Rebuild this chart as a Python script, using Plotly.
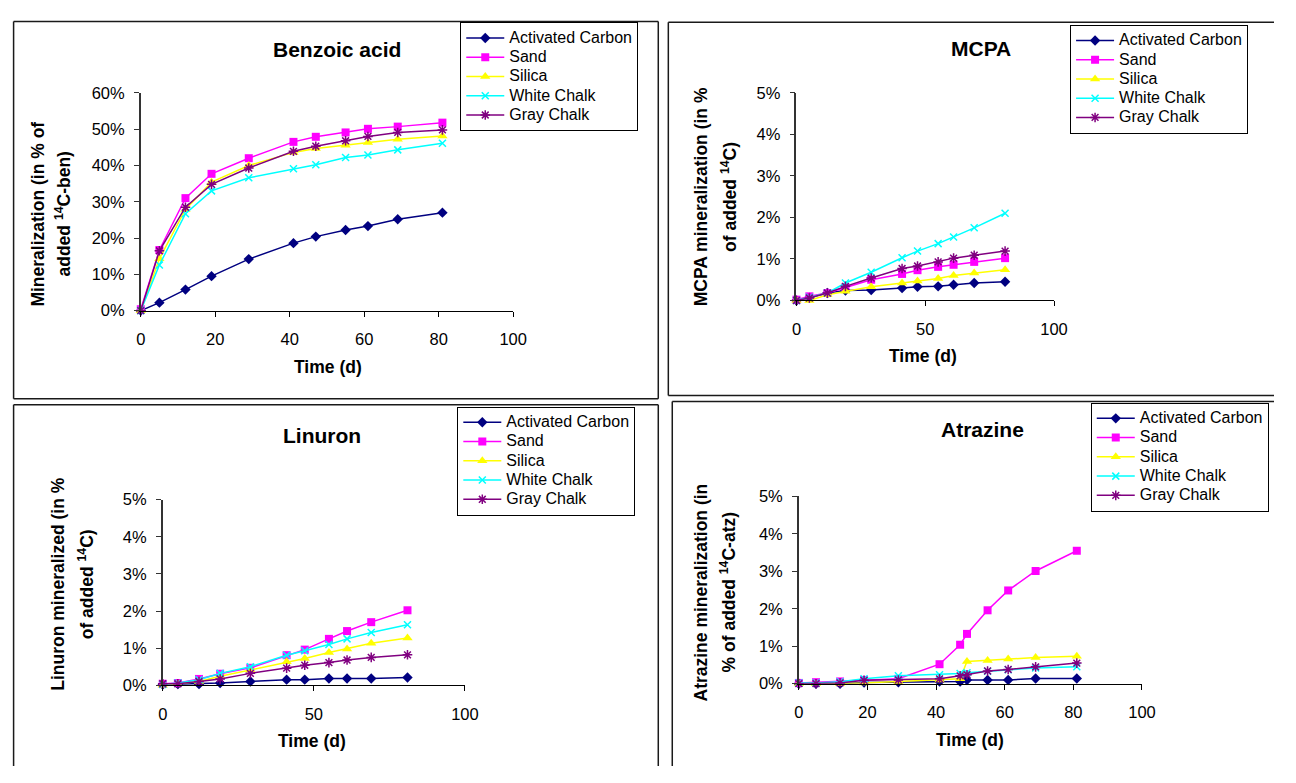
import plotly.graph_objects as go

# Page is 1296x783; the browser's default 8px body margin is left in place,
# so the figure is drawn 16px smaller and every pixel position is offset by 8.
PAGE_W, PAGE_H = 1296, 783
OFF = 8
W, H = PAGE_W - 2 * OFF, PAGE_H - 2 * OFF
FONT = "Liberation Sans, Arial, sans-serif"

# ---------------- data ----------------
series_names = ["Activated Carbon", "Sand", "Silica", "White Chalk", "Gray Chalk"]
series_colors = ["#000080", "#FF00FF", "#FFFF00", "#00FFFF", "#800080"]
series_symbols = ["diamond", "square", "triangle-up", "x-thin-open", "asterisk-open"]
series_sizes = [8, 8, 9, 7, 8]

time_11 = [0, 5, 12, 19, 29, 41, 47, 55, 61, 69, 81]
time_12 = [0, 5, 12, 19, 29, 41, 47, 49, 55, 61, 69, 81]

# Benzoic acid (% of added 14C)
benz_ac = [0, 2.2, 5.8, 9.5, 14.2, 18.6, 20.4, 22.2, 23.3, 25.2, 27.0]
benz_sand = [0.4, 16.7, 31.0, 37.7, 42.0, 46.5, 47.9, 49.1, 50.1, 50.7, 51.8]
benz_silica = [0, 14.3, 27.9, 35.4, 40.0, 43.6, 44.7, 45.6, 46.3, 47.2, 48.1]
benz_white = [0, 12.6, 26.7, 33.0, 36.6, 39.1, 40.2, 42.2, 42.9, 44.3, 46.1]
benz_gray = [0, 16.5, 28.5, 34.8, 39.3, 43.9, 45.3, 46.8, 48.0, 49.1, 49.8]

# MCPA
mcpa_ac = [0, 0.07, 0.18, 0.24, 0.25, 0.30, 0.33, 0.34, 0.38, 0.42, 0.45]
mcpa_sand = [0.02, 0.10, 0.18, 0.31, 0.50, 0.64, 0.73, 0.81, 0.86, 0.93, 1.02]
mcpa_silica = [0, 0, 0.14, 0.22, 0.33, 0.42, 0.47, 0.53, 0.60, 0.66, 0.74]
mcpa_white = [0, 0.08, 0.18, 0.42, 0.68, 1.03, 1.19, 1.37, 1.53, 1.75, 2.10]
mcpa_gray = [0, 0.06, 0.18, 0.34, 0.54, 0.77, 0.83, 0.93, 1.02, 1.09, 1.19]

# Linuron
lin_ac = [0.02, 0.03, 0.03, 0.06, 0.10, 0.15, 0.15, 0.18, 0.18, 0.18, 0.21]
lin_sand = [0.04, 0.06, 0.17, 0.31, 0.47, 0.81, 0.96, 1.25, 1.46, 1.70, 2.02]
lin_silica = [0, 0.04, 0.10, 0.24, 0.41, 0.63, 0.72, 0.88, 0.98, 1.13, 1.27]
lin_white = [0.02, 0.06, 0.15, 0.32, 0.50, 0.81, 0.93, 1.10, 1.25, 1.42, 1.63]
lin_gray = [0.04, 0.04, 0.10, 0.17, 0.32, 0.46, 0.54, 0.61, 0.68, 0.75, 0.82]

# Atrazine
atz_ac = [0, 0, 0, 0.03, 0.04, 0.06, 0.06, 0.10, 0.10, 0.10, 0.14, 0.14]
atz_sand = [0.02, 0.04, 0.06, 0.10, 0.13, 0.52, 1.04, 1.33, 1.96, 2.49, 3.01, 3.55]
atz_silica = [0, 0, 0, 0.02, 0.06, 0.10, 0.13, 0.59, 0.62, 0.66, 0.70, 0.73]
atz_white = [0.02, 0.02, 0.05, 0.13, 0.21, 0.24, 0.27, 0.29, 0.33, 0.37, 0.42, 0.45]
atz_gray = [0, 0, 0.02, 0.09, 0.10, 0.13, 0.21, 0.24, 0.34, 0.38, 0.45, 0.55]

titles = ["Benzoic acid", "MCPA", "Linuron", "Atrazine"]
y_title_lines = [
    ["Mineralization (in % of", "added <sup>14</sup>C-ben)"],
    ["MCPA mineralization (in %", "of added <sup>14</sup>C)"],
    ["Linuron mineralized (in %", "of added <sup>14</sup>C)"],
    ["Atrazine mineralization (in", "% of added <sup>14</sup>C-atz)"],
]
x_title = "Time (d)"

panels = [
    dict(t=time_11, ys=[benz_ac, benz_sand, benz_silica, benz_white, benz_gray],
         ymax=60, ydt=10, xdt=20),
    dict(t=time_11, ys=[mcpa_ac, mcpa_sand, mcpa_silica, mcpa_white, mcpa_gray],
         ymax=5, ydt=1, xdt=50),
    dict(t=time_11, ys=[lin_ac, lin_sand, lin_silica, lin_white, lin_gray],
         ymax=5, ydt=1, xdt=50),
    dict(t=time_12, ys=[atz_ac, atz_sand, atz_silica, atz_white, atz_gray],
         ymax=5, ydt=1, xdt=20),
]

# ---------------- layout geometry (page pixels) ----------------
plot_boxes = [  # x0, x1, ytop, ybottom
    (137.7, 515.7, 85.7, 308.7),
    (803.3, 1064.7, 85.7, 298.3),
    (160.0, 466.7, 502.3, 692.3),
    (805.7, 1154.0, 499.0, 690.7),
]
XR, YB = OFF + W, OFF + H
frame_lines = [  # visible frame edges (x0, y0, x1, y1)
    [(8.6, 12.7, 663, 12.7), (8.6, 12.7, 8.6, 399), (663, 12.7, 663, 399), (8.6, 399, 663, 399)],
    [(673.2, 13.3, XR, 13.3), (673.2, 13.3, 673.2, 395.7), (673.2, 395.7, XR, 395.7)],
    [(8.6, 405, 663, 405), (8.6, 405, 8.6, YB), (663, 405, 663, YB)],
    [(677.2, 401.7, XR, 401.7), (677.2, 401.7, 677.2, YB)],
]
legend_pos = [(462, 13.5), (1081, 16), (459, 407), (1102, 403)]
title_pos = [(336.7, 41.7), (990.6, 40.7), (322, 436.7), (992.6, 430)]
xtitle_pos = [(327.4, 366.7), (931.5, 355), (311.4, 749.3), (979.4, 748.3)]
ytitle_pos = [  # (x line1, x line2, y center)
    (33.7, 59, 210),
    (706, 734, 192),
    (54, 82, 589),
    (706.7, 734, 597),
]


def fx(x):
    return (x - OFF) / W


def fy(y):
    return 1 - (y - OFF) / H


fig = go.Figure()
layout = dict(
    width=W, height=H, margin=dict(l=0, r=0, t=0, b=0),
    paper_bgcolor="white", plot_bgcolor="white",
    font=dict(family=FONT, color="black", size=16),
    shapes=[], annotations=[],
)

for i, p in enumerate(panels):
    k = "" if i == 0 else str(i + 1)
    xa, ya = "x" + k, "y" + k
    leg = "legend" + k
    for j, name in enumerate(series_names):
        sym = series_symbols[j]
        open_sym = sym.endswith("open")
        fig.add_trace(go.Scatter(
            x=p["t"], y=p["ys"][j],
            name='<span style="font-size:16px">%s</span>' % name,
            mode="lines+markers",
            xaxis=xa, yaxis=ya, legend=leg, cliponaxis=False,
            line=dict(color=series_colors[j], width=1.5),
            marker=dict(symbol=sym, size=series_sizes[j], color=series_colors[j],
                        line=dict(color=series_colors[j], width=1.5 if open_sym else 0)),
        ))
    x0, x1, yt, yb = plot_boxes[i]
    layout["xaxis" + k] = dict(
        domain=[fx(x0), fx(x1)], anchor=ya, range=[0, 100], dtick=p["xdt"], tick0=0,
        showline=True, linecolor="black", linewidth=1, ticks="outside", ticklen=5,
        tickcolor="black", showgrid=False, zeroline=False,
        tickfont=dict(size=16.5), ticklabelstandoff=9,
    )
    layout["yaxis" + k] = dict(
        domain=[fy(yb), fy(yt)], anchor=xa, range=[0, p["ymax"]], dtick=p["ydt"], tick0=0,
        ticksuffix="%", showline=True, linecolor="#333333", linewidth=1.5,
        ticks="outside", ticklen=5, tickcolor="#333333", showgrid=False, zeroline=False,
        tickfont=dict(size=16.5), ticklabelstandoff=6,
    )
    lx, ly = legend_pos[i]
    layout[leg] = dict(
        x=fx(lx), y=fy(ly), xanchor="left", yanchor="top",
        bordercolor="black", borderwidth=1, bgcolor="white",
        font=dict(family=FONT, size=12.5), itemwidth=38, tracegroupgap=0,
    )
    for (a, b, c, d) in frame_lines[i]:
        layout["shapes"].append(dict(
            type="line", xref="paper", yref="paper",
            x0=fx(a), y0=fy(b), x1=fx(c), y1=fy(d),
            line=dict(color="#1a1a1a", width=1.5), layer="below",
        ))
    tx, ty = title_pos[i]
    layout["annotations"].append(dict(
        text="<b>%s</b>" % titles[i], x=fx(tx), y=fy(ty), xref="paper", yref="paper",
        xanchor="center", yanchor="middle", showarrow=False, font=dict(size=21),
    ))
    ax, ay = xtitle_pos[i]
    layout["annotations"].append(dict(
        text="<b>%s</b>" % x_title, x=fx(ax), y=fy(ay), xref="paper", yref="paper",
        xanchor="center", yanchor="middle", showarrow=False, font=dict(size=17.5),
    ))
    l1x, l2x, lyc = ytitle_pos[i]
    for lx_, txt in zip((l1x, l2x), y_title_lines[i]):
        layout["annotations"].append(dict(
            text="<b>%s</b>" % txt, x=fx(lx_), y=fy(lyc), xref="paper", yref="paper",
            xanchor="center", yanchor="middle", showarrow=False, textangle=-90,
            font=dict(size=17.5),
        ))

fig.update_layout(**layout)
fig.write_html("out.html", config={"displayModeBar": False})
